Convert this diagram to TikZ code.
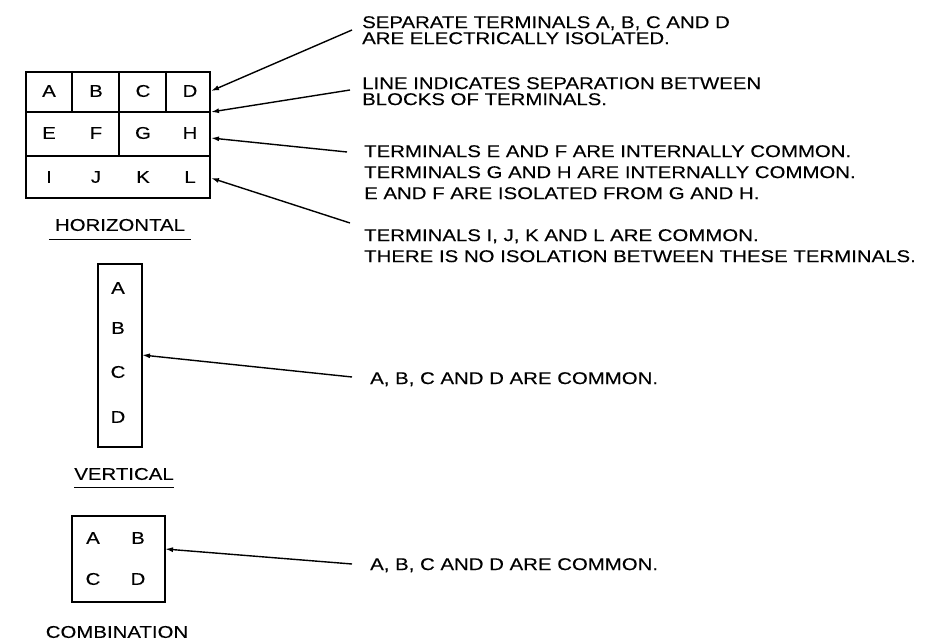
\documentclass[tikz,border=0pt]{standalone}
\usepackage{fontspec}
\setmainfont{Liberation Sans}[FakeStretch=1.2,FakeBold=0.2]
\usetikzlibrary{arrows.meta}

\begin{document}
\begin{tikzpicture}[
      x=1pt, y=-1pt,
      every node/.style={inner sep=0pt,font=\fontsize{17}{16}\selectfont},
      frame/.style={line width=1.7pt},
      note/.style={anchor=north west,align=left},
      widenote/.style={note,font=\fontsize{17}{21}\selectfont},
      pointer/.style={line width=1.4pt,{Latex[length=8pt,width=5pt]}-},
      underlined/.style={line width=1.3pt}
    ]
      \useasboundingbox (0,0) rectangle (938,644);

      % Horizontal block: outer frame and the lines between the terminals
      \node[frame,draw,minimum width=184pt,minimum height=126pt,anchor=north west]
        (hbox) at (25,71) {};
      \draw[frame] (25,112) -- (209,112) (25,156) -- (209,156);
      \draw[frame] (72,71) -- (72,112) (119,71) -- (119,156) (166,71) -- (166,112);
      \foreach \l [count=\i] in {A,B,C,D}
        \node (h\l) at ({2+47*\i},91) {\l};
      \foreach \l [count=\i] in {E,F,G,H}
        \node (h\l) at ({2+47*\i},133) {\l};
      \foreach \l [count=\i] in {I,J,K,L}
        \node (h\l) at ({2+47*\i},177) {\l};
      \node (hlabel) at (120,225) {HORIZONTAL};
      \draw[underlined] ([shift={(-6pt,-8pt)}]hlabel.south west) -- ([shift={(6pt,-8pt)}]hlabel.south east);

      % Vertical block
      \node[frame,draw,minimum width=44pt,minimum height=183pt,anchor=north west]
        (vbox) at (97,263) {};
      \foreach \l/\y in {A/288,B/328,C/372,D/417}
        \node (v\l) at (118,\y) {\l};
      \node (vlabel) at (124,474) {VERTICAL};
      \draw[underlined] ([yshift=-7pt]vlabel.south west) -- ([yshift=-7pt]vlabel.south east);

      % Combination block
      \node[frame,draw,minimum width=93pt,minimum height=86pt,anchor=north west]
        (cbox) at (71,515) {};
      \node (cA) at (93,538) {A};
      \node (cB) at (138,538) {B};
      \node (cC) at (93,579) {C};
      \node (cD) at (138,579) {D};
      \node (clabel) at (117,632) {COMBINATION};

      % The notes on the right
      \node[note] (sep) at (362,16) {SEPARATE TERMINALS A, B, C AND D\\ARE ELECTRICALLY ISOLATED.};
      \node[note] (line) at (362,77) {LINE INDICATES SEPARATION BETWEEN\\BLOCKS OF TERMINALS.};
      \node[widenote] (inner) at (364,145) {TERMINALS E AND F ARE INTERNALLY COMMON.\\TERMINALS G AND H ARE INTERNALLY COMMON.\\E AND F ARE ISOLATED FROM G AND H.};
      \node[widenote] (row) at (364,229) {TERMINALS I, J, K AND L ARE COMMON.\\THERE IS NO ISOLATION BETWEEN THESE TERMINALS.};
      \node[note] (vnote) at (370,372) {A, B, C AND D ARE COMMON.};
      \node[note] (cnote) at (370,558) {A, B, C AND D ARE COMMON.};

      % Points on the frames where the arrows end
      \coordinate (tipD) at (211,91);
      \coordinate (tipLine) at (211,112);
      \coordinate (tipGH) at (211,138);
      \coordinate (tipL) at (211,178);
      \coordinate (tipV) at (142,355);
      \coordinate (tipC) at (165,549);

      \draw[pointer] (tipD) -- ([shift={(-10pt,-14pt)}]sep.north west);
      \draw[pointer] (tipLine) -- ([shift={(-12pt,-13pt)}]line.north west);
      \draw[pointer] (tipGH) -- ([shift={(-17pt,-7pt)}]inner.north west);
      \draw[pointer] (tipL) -- ([shift={(-14pt,6pt)}]row.north west);
      \draw[pointer] (tipV) -- ([shift={(-18pt,-5pt)}]vnote.north west);
      \draw[pointer] (tipC) -- ([shift={(-18pt,-6pt)}]cnote.north west);
    \end{tikzpicture}
\end{document}
